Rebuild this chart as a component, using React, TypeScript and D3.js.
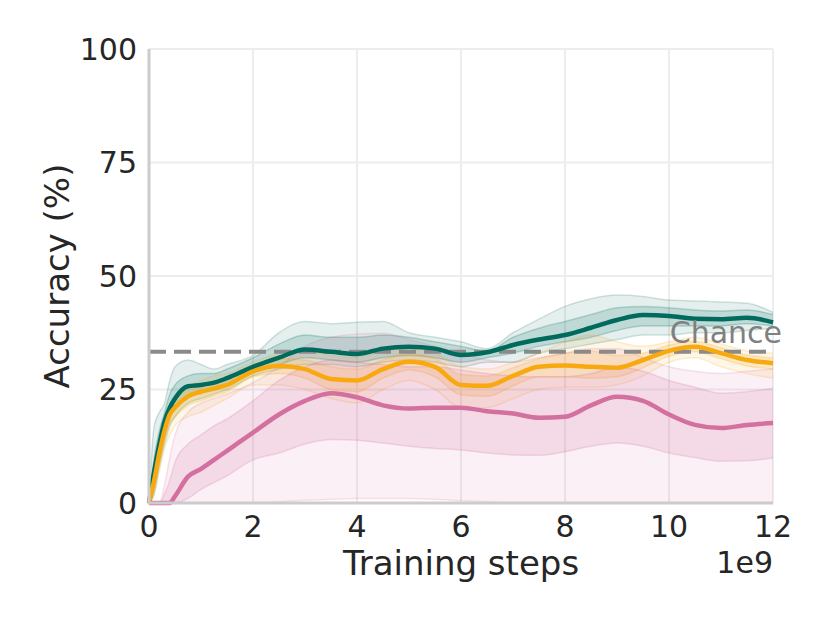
import React from 'react';
import * as d3 from 'd3';

// training steps (x1e9)
const steps = [0, 0.1, 0.2, 0.3, 0.4, 0.5, 0.75, 1, 1.25, 1.5, 2, 2.5, 3, 3.5, 4, 4.5, 5, 5.5, 6, 6.5, 7, 7.5, 8, 8.5, 9, 9.5, 10, 10.5, 11, 11.5, 12];

const greenMean = [0, 7, 13, 18, 21, 23, 25.7, 26, 26.5, 27.5, 30, 32, 33.8, 33.3, 32.8, 34, 34.4, 34, 32.6, 33.2, 34.8, 36, 37, 38.6, 40.3, 41.4, 41.2, 40.6, 40.5, 40.8, 39.8];
const greenInnerHi = [0, 10, 16, 20, 24, 26, 28, 28.5, 28.5, 29.5, 32, 35, 37, 36.5, 36.5, 37, 36.5, 35.5, 34.5, 33.5, 36.5, 38.5, 40, 41.5, 43, 43.3, 43, 42.5, 42.3, 42.5, 41.5];
const greenInnerLo = [0, 4, 10, 15, 19, 21, 23.5, 24.5, 25, 26, 29, 30.5, 32, 31.5, 31, 32, 32.5, 32, 31, 32, 33, 34.5, 35.5, 36.5, 38, 39, 39, 39, 39, 39.5, 39];
const greenOuterHi = [0, 17, 20, 22, 27, 30, 31.5, 30.5, 29.5, 30.5, 32.5, 37.5, 40, 39.5, 39.8, 40, 37.5, 36.5, 35.5, 34, 37.5, 40.5, 43.3, 45, 45.8, 45.5, 44.7, 44.5, 44.3, 44, 42];
const greenOuterLo = [0, 2, 8, 13, 17, 19, 22, 23, 24, 25, 28, 29.5, 30.5, 30.5, 30, 31, 31.5, 31, 30, 31, 31, 33, 34, 35, 36, 37, 37, 37.5, 37.5, 38, 38.5];

const yellowMean = [0, 5, 11, 16, 19.5, 21, 23.5, 24.5, 25.2, 26, 29, 30.2, 29.5, 27.3, 27, 29.5, 31.1, 30, 26, 25.8, 28, 30, 30.3, 30, 29.8, 31.5, 33.5, 34.4, 33, 31.5, 30.8];
const yellowInnerHi = [0, 6.5, 12.5, 17.5, 20.5, 22.5, 24.8, 26, 26.8, 27.5, 30.2, 31.8, 31.5, 30, 29.5, 31.5, 32.8, 31.8, 28.3, 28, 29.8, 31.8, 33, 33.5, 32.5, 33, 34.8, 35.6, 34.2, 32.6, 32];
const yellowInnerLo = [0, 3.5, 9, 14, 17.5, 19, 21.5, 22.5, 23.5, 24.5, 27.8, 28.5, 27.5, 25, 24.5, 27.5, 29.3, 27.8, 23.8, 23.5, 25.8, 27.8, 27.8, 27.5, 27.8, 29.8, 32.3, 33.3, 31.8, 30.2, 29.5];
const yellowOuterHi = [0, 8, 14, 18, 21.5, 23, 25.5, 27, 28, 28.5, 31, 33, 33.5, 32.5, 32, 33.5, 34, 33, 30, 29.5, 31, 33, 35.5, 37, 35.5, 34.5, 35.5, 36.5, 35, 33.5, 33];
const yellowOuterLo = [0, 2, 7, 12, 15, 17, 19, 20, 21.5, 23, 26, 26, 25, 23, 22, 25, 27, 25, 21, 21, 23, 25, 25.5, 25.5, 26, 28, 31, 32, 30, 28.5, 27.5];

const pinkMean = [0, 0, 0, 0, 0, 1.5, 5.8, 7.5, 9.5, 11.5, 15.5, 19.5, 22.5, 24.2, 23.3, 21.5, 20.8, 21, 21, 20.2, 19.7, 18.8, 19, 21.5, 23.4, 22.5, 19.5, 17.2, 16.5, 17.2, 17.6];
const pinkInnerHi = [0, 0, 0, 2, 5, 9, 13, 15, 17, 18.5, 22.5, 27, 30, 31.5, 31, 30.5, 30, 30, 29.3, 28.5, 28, 27.8, 27.8, 28.5, 30, 29, 27, 25.5, 24.2, 24.5, 25.3];
const pinkInnerLo = [0, 0, 0, 0, 0, 0, 1, 3, 4.5, 6, 9.5, 11, 13, 14, 13.8, 13.2, 12.5, 12, 11.7, 11, 10.6, 10.5, 11.3, 12.5, 13.2, 12.5, 11, 10, 9.2, 9.3, 9.9];
const pinkOuterHi = [0, 0, 0, 4, 10, 15, 20, 22, 23, 24, 26.5, 30, 34.5, 36.5, 37.2, 37.4, 36, 34.5, 33, 31.5, 31, 32, 33, 34, 34, 32, 30, 29, 28.5, 29, 29.5];
const pinkOuterLo = [0, 0, 0, 0, 0, 0, 0, 0, 0, 0, 0, 0.3, 0.6, 0.8, 1, 1, 1, 0.8, 0.5, 0.3, 0, 0, 0, 0, 0, 0, 0, 0, 0, 0, 0];

const xTicks = [0, 2, 4, 6, 8, 10, 12];
const yTicks = [0, 25, 50, 75, 100];
const chance = 100 / 3;

const series = [
  { name: 'green', color: '#006B5D', mean: greenMean, innerHi: greenInnerHi, innerLo: greenInnerLo, outerHi: greenOuterHi, outerLo: greenOuterLo },
  { name: 'yellow', color: '#F7A90F', mean: yellowMean, innerHi: yellowInnerHi, innerLo: yellowInnerLo, outerHi: yellowOuterHi, outerLo: yellowOuterLo },
  { name: 'pink', color: '#D3709F', mean: pinkMean, innerHi: pinkInnerHi, innerLo: pinkInnerLo, outerHi: pinkOuterHi, outerLo: pinkOuterLo },
];

const W = 830;
const H = 623;
const margin = { left: 149, right: 57, top: 49, bottom: 120 };
const font = 'DejaVu Sans, sans-serif';

export default function App() {
  const x = d3.scaleLinear().domain([0, 12]).range([margin.left, W - margin.right]);
  const y = d3.scaleLinear().domain([0, 100]).range([H - margin.bottom, margin.top]);

  const band = (lo: number[]) =>
    d3.area<number>()
      .x((_, i) => x(steps[i]))
      .y0((_, i) => y(lo[i]))
      .y1(d => y(d))
      .curve(d3.curveMonotoneX);

  const line = d3.line<number>()
    .x((_, i) => x(steps[i]))
    .y(d => y(d))
    .curve(d3.curveMonotoneX);

  const [x0, x1] = x.range();
  const [yb, yt] = y.range();

  return (
    <div style={{ position: 'fixed', left: 0, top: 0, background: '#fff' }}>
      <svg width={W} height={H} viewBox={`0 0 ${W} ${H}`} fontFamily={font}>
        <rect width={W} height={H} fill="#fff" />

        {/* grid */}
        {xTicks.filter(t => t > 0).map(t => (
          <line key={'gx' + t} x1={x(t)} x2={x(t)} y1={yb} y2={yt} stroke="#ededed" strokeWidth={2} />
        ))}
        {yTicks.filter(t => t > 0).map(t => (
          <line key={'gy' + t} x1={x0} x2={x1} y1={y(t)} y2={y(t)} stroke="#ededed" strokeWidth={2} />
        ))}

        {/* bands */}
        {series.map(s => (
          <g key={'b' + s.name}>
            <path d={band(s.outerLo)(s.outerHi) || ''} fill={s.color} fillOpacity={0.1} />
            <path d={line(s.outerHi) || ''} fill="none" stroke={s.color} strokeOpacity={0.18} strokeWidth={1.5} />
            <path d={line(s.outerLo) || ''} fill="none" stroke={s.color} strokeOpacity={0.18} strokeWidth={1.5} />
            <path d={band(s.innerLo)(s.innerHi) || ''} fill={s.color} fillOpacity={0.17} />
            <path d={line(s.innerHi) || ''} fill="none" stroke={s.color} strokeOpacity={0.22} strokeWidth={1.5} />
            <path d={line(s.innerLo) || ''} fill="none" stroke={s.color} strokeOpacity={0.22} strokeWidth={1.5} />
          </g>
        ))}

        {/* chance line */}
        <line x1={x0} x2={x1} y1={y(chance)} y2={y(chance)} stroke="#8a8a8a" strokeWidth={4} strokeDasharray="17 8" />

        {/* means */}
        {series.map(s => (
          <path key={'m' + s.name} d={line(s.mean) || ''} fill="none" stroke={s.color} strokeWidth={4.5} strokeLinejoin="round" />
        ))}

        <text x={x1 + 9} y={y(chance) - 9} textAnchor="end" fontSize={30} fill="#808080">Chance</text>

        {/* spines */}
        <line x1={x0} x2={x0} y1={yb + 1.5} y2={yt} stroke="#cccccc" strokeWidth={3} />
        <line x1={x0} x2={x1} y1={yb} y2={yb} stroke="#cccccc" strokeWidth={3} />

        {/* tick labels */}
        {xTicks.map(t => (
          <text key={'tx' + t} x={x(t)} y={yb + 34} textAnchor="middle" fontSize={30} fill="#262626">{t}</text>
        ))}
        {yTicks.map(t => (
          <text key={'ty' + t} x={x0 - 12} y={y(t)} dy="0.36em" textAnchor="end" fontSize={30} fill="#262626">{t}</text>
        ))}

        <text x={x1} y={yb + 70} textAnchor="end" fontSize={30} fill="#262626">1e9</text>
        <text x={(x0 + x1) / 2} y={yb + 72} textAnchor="middle" fontSize={34} fill="#262626">Training steps</text>
        <text transform={`translate(69,${(yb + yt) / 2}) rotate(-90)`} textAnchor="middle" fontSize={34} fill="#262626">Accuracy (%)</text>
      </svg>
    </div>
  );
}
